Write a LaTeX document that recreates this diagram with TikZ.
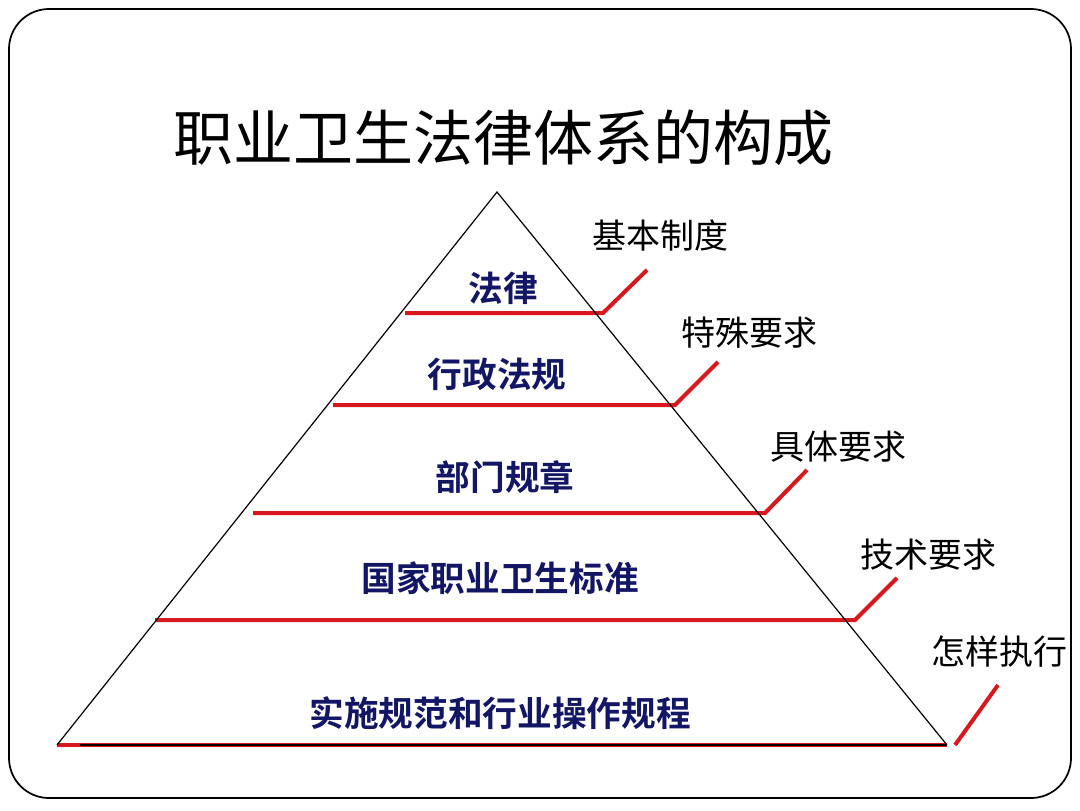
\documentclass[tikz,border=0pt]{standalone}
\usepackage{fontspec}
\newfontfamily\cjk{Noto Sans CJK SC}
\newfontfamily\cjkb{Noto Sans CJK SC Bold}
\begin{document}
\begin{tikzpicture}[x=0.75pt,y=-0.75pt,
  redline/.style={draw={rgb,255:red,215;green,25;blue,30},line width=3pt},
  pyr/.style={draw=black,line width=0.9pt},
  lvl/.style={font=\cjkb\fontsize{26}{30}\selectfont,text={rgb,255:red,18;green,22;blue,100},inner sep=0pt},
  tag/.style={font=\cjk\fontsize{25.5}{30}\selectfont,text=black,inner sep=0pt},
  ttl/.style={font=\cjk\fontsize{45}{50}\selectfont,text=black,inner sep=0pt}]
\useasboundingbox (0,0) rectangle (1080,810);
\draw[line width=1.3pt,rounded corners=30pt] (9,9) rectangle (1071,798);
\node[ttl] (title) at (503,138) {职业卫生法律体系的构成};
% pyramid
\coordinate (apex) at (497,192);
\coordinate (bl) at (57,745);
\coordinate (br) at (947,745);
% level lines
\coordinate (l1a) at (405,313); \coordinate (l1b) at (603,313); \coordinate (t1) at (647,270);
\coordinate (l2a) at (333,405); \coordinate (l2b) at (675,405); \coordinate (t2) at (718,362);
\coordinate (l3a) at (253,513); \coordinate (l3b) at (765,513); \coordinate (t3) at (807,470);
\coordinate (l4a) at (155,620); \coordinate (l4b) at (855,620); \coordinate (t4) at (897,578);
\coordinate (l5k) at (80,745); \coordinate (l5c) at (955,745); \coordinate (t5) at (998,685);
\draw[redline] (l1a) -- (l1b) -- (t1);
\draw[redline] (l2a) -- (l2b) -- (t2);
\draw[redline] (l3a) -- (l3b) -- (t3);
\draw[redline] (l4a) -- (l4b) -- (t4);
\draw[redline] (bl) -- (br);
\draw[black,line width=2pt] (l5k) -- (br);
\draw[redline] (l5c) -- (t5);
\draw[pyr] (bl) -- (apex) -- (br);
% level labels
\node[lvl] (n1) at (503,288) {法律};
\node[lvl] (n2) at (497,374) {行政法规};
\node[lvl] (n3) at (505,477) {部门规章};
\node[lvl] (n4) at (500,578) {国家职业卫生标准};
\node[lvl] (n5) at (500,713) {实施规范和行业操作规程};
% tags
\node[tag] (g1) at (660,235) {基本制度};
\node[tag] (g2) at (749,333) {特殊要求};
\node[tag] (g3) at (838,447) {具体要求};
\node[tag] (g4) at (928,555) {技术要求};
\node[tag] (g5) at (999,652) {怎样执行};
\end{tikzpicture}
\end{document}
